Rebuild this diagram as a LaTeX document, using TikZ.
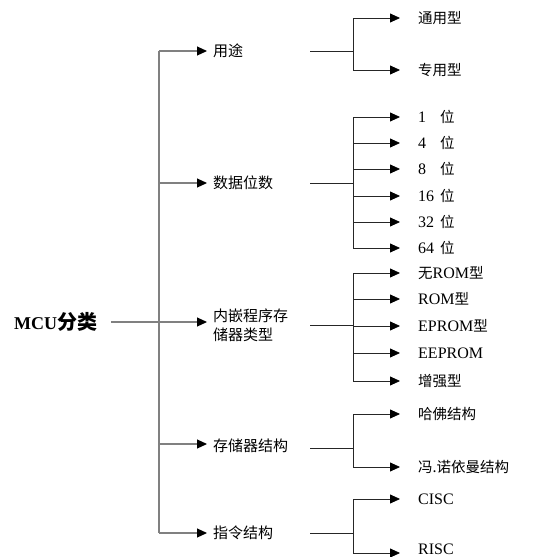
\documentclass[tikz,border=0pt]{standalone}
\usepackage{fontspec}
\setmainfont{Liberation Serif}
\newfontfamily\cjk{Noto Sans CJK SC}
\usetikzlibrary{arrows.meta}
\newcommand\zhx[1]{{\cjk\fontsize{14.5}{19}\selectfont #1}}
\tikzset{
  trunk/.style={draw=black!50, line width=1.1pt},
  branch/.style={draw=black!85, line width=0.8pt},
  tipped/.style={-{Triangle[length=10pt,width=9pt,color=black]}},
  lvone/.style={anchor=west, inner sep=0pt, font=\cjk\fontsize{15}{19}\selectfont, align=left},
  leaf/.style={anchor=west, inner sep=0pt, font=\fontsize{16}{19}\selectfont},
  root/.style={anchor=west, inner sep=0pt, font=\bfseries\fontsize{18}{20}\selectfont}
}
\begin{document}
\begin{tikzpicture}[x=1pt,y=-1pt]
\useasboundingbox (0,0) rectangle (534,557);
% root
\node[root] (mcu) at (14,322) {MCU{\cjk\bfseries\fontsize{20}{20}\selectfont 分类}};
% level one
\node[lvone] (n1) at (213,51) {用途};
\node[lvone] (n2) at (213,183) {数据位数};
\node[lvone] (n3) at (213,325) {内嵌程序存\\储器类型};
\node[lvone] (n4) at (213,446) {存储器结构};
\node[lvone] (n5) at (213,533) {指令结构};
% trunk
\coordinate (ttop) at (159,51);
\coordinate (tbot) at (159,533);
\coordinate (t2) at (159,183);
\coordinate (t4) at (159,444);
\draw[trunk] (ttop) -- (tbot);
\draw[trunk] ([xshift=14pt]mcu.east |- 0,322) -- (159,322);
\draw[trunk,tipped] (159,322) -- (207,322);
\draw[trunk,tipped] (ttop) -- ([xshift=-6pt]n1.west);
\draw[trunk,tipped] (t2) -- ([xshift=-6pt]n2.west);
\draw[trunk,tipped] (t4) -- (207,444);
\draw[trunk,tipped] (tbot) -- ([xshift=-6pt]n5.west);
% leaves
\node[leaf] (a1) at (418,18) {\zhx{通用型}};
\node[leaf] (a2) at (418,70) {\zhx{专用型}};
\node[leaf] (b1) at (418,117) {\makebox[22pt][l]{1}\zhx{位}};
\node[leaf] (b2) at (418,143) {\makebox[22pt][l]{4}\zhx{位}};
\node[leaf] (b3) at (418,169) {\makebox[22pt][l]{8}\zhx{位}};
\node[leaf] (b4) at (418,196) {\makebox[22pt][l]{16}\zhx{位}};
\node[leaf] (b5) at (418,222) {\makebox[22pt][l]{32}\zhx{位}};
\node[leaf] (b6) at (418,248) {\makebox[22pt][l]{64}\zhx{位}};
\node[leaf] (c1) at (418,273) {\zhx{无}ROM\zhx{型}};
\node[leaf] (c2) at (418,299) {ROM\zhx{型}};
\node[leaf] (c3) at (418,326) {EPROM\zhx{型}};
\node[leaf] (c4) at (418,353) {EEPROM};
\node[leaf] (c5) at (418,381) {\zhx{增强型}};
\node[leaf] (d1) at (418,414) {\zhx{哈佛结构}};
\node[leaf] (d2) at (418,467) {\zhx{冯.诺依曼结构}};
\node[leaf] (e1) at (418,499) {CISC};
\node[leaf] (e2) at (418,549) {RISC};
% group 1
\coordinate (s1) at (310,51); \coordinate (j1) at (353,51);
\draw[branch] (s1) -- (j1);
\draw[branch] (353,18) -- (353,70);
\foreach \l in {a1,a2} \draw[branch,tipped] (353,0 |- \l.west) -- ([xshift=-18pt]\l.west);
% group 2
\coordinate (s2) at (310,183); \coordinate (j2) at (353,183);
\draw[branch] (s2) -- (j2);
\draw[branch] (353,117) -- (353,248);
\foreach \l in {b1,b2,b3,b4,b5,b6} \draw[branch,tipped] (353,0 |- \l.west) -- ([xshift=-18pt]\l.west);
% group 3
\coordinate (s3) at (310,325); \coordinate (j3) at (353,325);
\draw[branch] (s3) -- (j3);
\draw[branch] (353,273) -- (353,381);
\foreach \l in {c1,c2,c3,c4,c5} \draw[branch,tipped] (353,0 |- \l.west) -- ([xshift=-18pt]\l.west);
% group 4
\coordinate (s4) at (310,448); \coordinate (j4) at (353,448);
\draw[branch] (s4) -- (j4);
\draw[branch] (353,414) -- (353,467);
\foreach \l in {d1,d2} \draw[branch,tipped] (353,0 |- \l.west) -- ([xshift=-18pt]\l.west);
% group 5
\coordinate (s5) at (310,533); \coordinate (j5) at (353,533);
\draw[branch] (s5) -- (j5);
\coordinate (r5) at (353,553);
\draw[branch] (353,499) -- (r5);
\draw[branch,tipped] (353,0 |- e1.west) -- ([xshift=-18pt]e1.west);
\draw[branch,tipped] (r5) -- ([xshift=-18pt]e2.west |- r5);
\end{tikzpicture}
\end{document}
